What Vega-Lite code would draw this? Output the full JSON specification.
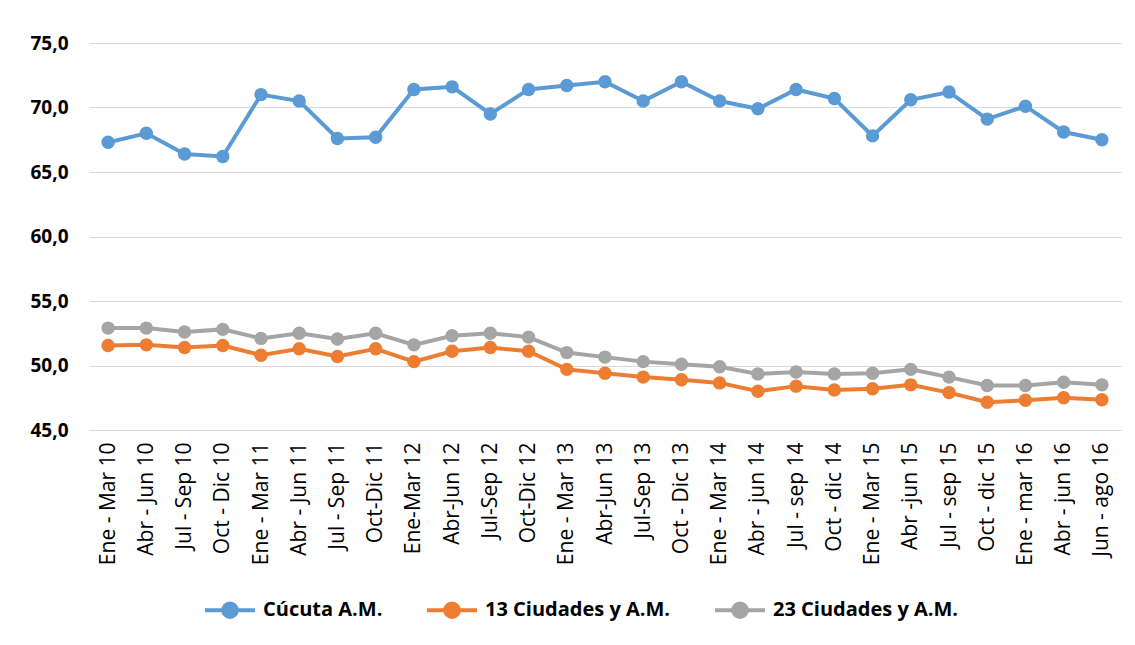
{
  "$schema": "https://vega.github.io/schema/vega-lite/v6.json",
  "width": 1032,
  "height": 387,
  "autosize": {"type": "none"},
  "padding": {"left": 89, "top": 43, "right": 14, "bottom": 215},
  "background": "white",
  "config": {
    "locale": {"number": {"decimal": ",", "thousands": ".", "grouping": [3], "currency": ["", " €"]}},
    "view": {"stroke": null},
    "font": "Open Sans"
  },
  "data": {
    "values": [
      {"p": "Ene - Mar 10", "s": "Cúcuta A.M.", "v": 67.3},
      {"p": "Abr - Jun 10", "s": "Cúcuta A.M.", "v": 68.0},
      {"p": "Jul - Sep 10", "s": "Cúcuta A.M.", "v": 66.4},
      {"p": "Oct - Dic 10", "s": "Cúcuta A.M.", "v": 66.2},
      {"p": "Ene - Mar 11", "s": "Cúcuta A.M.", "v": 71.0},
      {"p": "Abr - Jun 11", "s": "Cúcuta A.M.", "v": 70.5},
      {"p": "Jul - Sep 11", "s": "Cúcuta A.M.", "v": 67.6},
      {"p": "Oct-Dic 11", "s": "Cúcuta A.M.", "v": 67.7},
      {"p": "Ene-Mar 12", "s": "Cúcuta A.M.", "v": 71.4},
      {"p": "Abr-Jun 12", "s": "Cúcuta A.M.", "v": 71.6},
      {"p": "Jul-Sep 12", "s": "Cúcuta A.M.", "v": 69.5},
      {"p": "Oct-Dic 12", "s": "Cúcuta A.M.", "v": 71.4},
      {"p": "Ene - Mar 13", "s": "Cúcuta A.M.", "v": 71.7},
      {"p": "Abr-Jun 13", "s": "Cúcuta A.M.", "v": 72.0},
      {"p": "Jul-Sep 13", "s": "Cúcuta A.M.", "v": 70.5},
      {"p": "Oct - Dic 13", "s": "Cúcuta A.M.", "v": 72.0},
      {"p": "Ene - Mar 14", "s": "Cúcuta A.M.", "v": 70.5},
      {"p": "Abr - jun 14", "s": "Cúcuta A.M.", "v": 69.9},
      {"p": "Jul - sep 14", "s": "Cúcuta A.M.", "v": 71.4},
      {"p": "Oct - dic 14", "s": "Cúcuta A.M.", "v": 70.7},
      {"p": "Ene - Mar 15", "s": "Cúcuta A.M.", "v": 67.8},
      {"p": "Abr -jun 15", "s": "Cúcuta A.M.", "v": 70.6},
      {"p": "Jul - sep 15", "s": "Cúcuta A.M.", "v": 71.2},
      {"p": "Oct - dic 15", "s": "Cúcuta A.M.", "v": 69.1},
      {"p": "Ene - mar 16", "s": "Cúcuta A.M.", "v": 70.1},
      {"p": "Abr - jun 16", "s": "Cúcuta A.M.", "v": 68.1},
      {"p": "Jun - ago 16", "s": "Cúcuta A.M.", "v": 67.5},

      {"p": "Ene - Mar 10", "s": "13 Ciudades y A.M.", "v": 51.55},
      {"p": "Abr - Jun 10", "s": "13 Ciudades y A.M.", "v": 51.6},
      {"p": "Jul - Sep 10", "s": "13 Ciudades y A.M.", "v": 51.4},
      {"p": "Oct - Dic 10", "s": "13 Ciudades y A.M.", "v": 51.55},
      {"p": "Ene - Mar 11", "s": "13 Ciudades y A.M.", "v": 50.8},
      {"p": "Abr - Jun 11", "s": "13 Ciudades y A.M.", "v": 51.3},
      {"p": "Jul - Sep 11", "s": "13 Ciudades y A.M.", "v": 50.7},
      {"p": "Oct-Dic 11", "s": "13 Ciudades y A.M.", "v": 51.3},
      {"p": "Ene-Mar 12", "s": "13 Ciudades y A.M.", "v": 50.3},
      {"p": "Abr-Jun 12", "s": "13 Ciudades y A.M.", "v": 51.1},
      {"p": "Jul-Sep 12", "s": "13 Ciudades y A.M.", "v": 51.4},
      {"p": "Oct-Dic 12", "s": "13 Ciudades y A.M.", "v": 51.1},
      {"p": "Ene - Mar 13", "s": "13 Ciudades y A.M.", "v": 49.7},
      {"p": "Abr-Jun 13", "s": "13 Ciudades y A.M.", "v": 49.4},
      {"p": "Jul-Sep 13", "s": "13 Ciudades y A.M.", "v": 49.1},
      {"p": "Oct - Dic 13", "s": "13 Ciudades y A.M.", "v": 48.9},
      {"p": "Ene - Mar 14", "s": "13 Ciudades y A.M.", "v": 48.65},
      {"p": "Abr - jun 14", "s": "13 Ciudades y A.M.", "v": 48.0},
      {"p": "Jul - sep 14", "s": "13 Ciudades y A.M.", "v": 48.4},
      {"p": "Oct - dic 14", "s": "13 Ciudades y A.M.", "v": 48.1},
      {"p": "Ene - Mar 15", "s": "13 Ciudades y A.M.", "v": 48.2},
      {"p": "Abr -jun 15", "s": "13 Ciudades y A.M.", "v": 48.5},
      {"p": "Jul - sep 15", "s": "13 Ciudades y A.M.", "v": 47.9},
      {"p": "Oct - dic 15", "s": "13 Ciudades y A.M.", "v": 47.15},
      {"p": "Ene - mar 16", "s": "13 Ciudades y A.M.", "v": 47.3},
      {"p": "Abr - jun 16", "s": "13 Ciudades y A.M.", "v": 47.5},
      {"p": "Jun - ago 16", "s": "13 Ciudades y A.M.", "v": 47.35},

      {"p": "Ene - Mar 10", "s": "23 Ciudades y A.M.", "v": 52.9},
      {"p": "Abr - Jun 10", "s": "23 Ciudades y A.M.", "v": 52.9},
      {"p": "Jul - Sep 10", "s": "23 Ciudades y A.M.", "v": 52.6},
      {"p": "Oct - Dic 10", "s": "23 Ciudades y A.M.", "v": 52.8},
      {"p": "Ene - Mar 11", "s": "23 Ciudades y A.M.", "v": 52.1},
      {"p": "Abr - Jun 11", "s": "23 Ciudades y A.M.", "v": 52.5},
      {"p": "Jul - Sep 11", "s": "23 Ciudades y A.M.", "v": 52.05},
      {"p": "Oct-Dic 11", "s": "23 Ciudades y A.M.", "v": 52.5},
      {"p": "Ene-Mar 12", "s": "23 Ciudades y A.M.", "v": 51.6},
      {"p": "Abr-Jun 12", "s": "23 Ciudades y A.M.", "v": 52.3},
      {"p": "Jul-Sep 12", "s": "23 Ciudades y A.M.", "v": 52.5},
      {"p": "Oct-Dic 12", "s": "23 Ciudades y A.M.", "v": 52.2},
      {"p": "Ene - Mar 13", "s": "23 Ciudades y A.M.", "v": 51.0},
      {"p": "Abr-Jun 13", "s": "23 Ciudades y A.M.", "v": 50.65},
      {"p": "Jul-Sep 13", "s": "23 Ciudades y A.M.", "v": 50.3},
      {"p": "Oct - Dic 13", "s": "23 Ciudades y A.M.", "v": 50.1},
      {"p": "Ene - Mar 14", "s": "23 Ciudades y A.M.", "v": 49.9},
      {"p": "Abr - jun 14", "s": "23 Ciudades y A.M.", "v": 49.35},
      {"p": "Jul - sep 14", "s": "23 Ciudades y A.M.", "v": 49.5},
      {"p": "Oct - dic 14", "s": "23 Ciudades y A.M.", "v": 49.35},
      {"p": "Ene - Mar 15", "s": "23 Ciudades y A.M.", "v": 49.4},
      {"p": "Abr -jun 15", "s": "23 Ciudades y A.M.", "v": 49.7},
      {"p": "Jul - sep 15", "s": "23 Ciudades y A.M.", "v": 49.1},
      {"p": "Oct - dic 15", "s": "23 Ciudades y A.M.", "v": 48.45},
      {"p": "Ene - mar 16", "s": "23 Ciudades y A.M.", "v": 48.45},
      {"p": "Abr - jun 16", "s": "23 Ciudades y A.M.", "v": 48.7},
      {"p": "Jun - ago 16", "s": "23 Ciudades y A.M.", "v": 48.5}
    ]
  },
  "mark": {"type": "line", "strokeWidth": 4, "point": {"filled": true, "size": 180, "opacity": 1}},
  "encoding": {
    "x": {
      "field": "p", "type": "ordinal", "sort": null,
      "scale": {"type": "point", "padding": 0.5},
      "axis": {
        "title": null, "labelAngle": -90, "labelFontSize": 21, "labelColor": "#000000",
        "labelPadding": 12, "ticks": false, "domainColor": "#d9d9d9", "domainWidth": 1,
        "grid": false, "labelFont": "Open Sans", "labelBaseline": "middle"
      }
    },
    "y": {
      "field": "v", "type": "quantitative",
      "scale": {"domain": [45, 75], "nice": false, "zero": false},
      "axis": {
        "title": null, "values": [45, 50, 55, 60, 65, 70, 75], "format": ".1f",
        "labelFontSize": 19, "labelFontWeight": "bold", "labelColor": "#000000",
        "labelPadding": 21, "ticks": false, "domain": false,
        "gridColor": "#d9d9d9", "gridWidth": 1, "labelFont": "Open Sans"
      }
    },
    "color": {
      "field": "s", "type": "nominal",
      "scale": {
        "domain": ["Cúcuta A.M.", "13 Ciudades y A.M.", "23 Ciudades y A.M."],
        "range": ["#5B9BD5", "#ED7D31", "#A5A5A5"]
      },
      "legend": {
        "title": null, "orient": "none", "direction": "horizontal",
        "legendX": 114, "legendY": 540,
        "labelFontSize": 20, "labelFontWeight": "bold", "labelColor": "#000000",
        "labelFont": "Open Sans", "labelOffset": 6, "columnPadding": 36,
        "symbolType": "M-1,0L1,0M-0.27,0A0.27,0.27,0,1,1,0.27,0A0.27,0.27,0,1,1,-0.27,0Z",
        "symbolSize": 2500, "symbolStrokeWidth": 4,
        "labelLimit": 400
      }
    }
  }
}
